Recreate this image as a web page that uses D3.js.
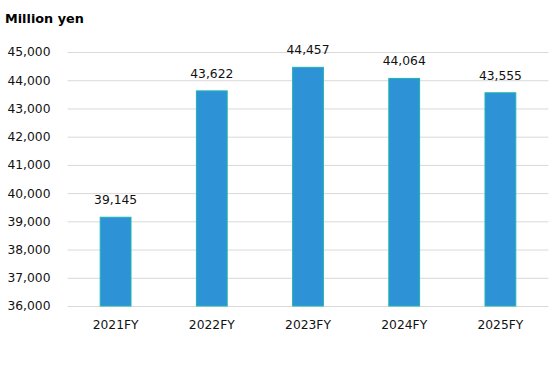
<!DOCTYPE html>
<html><head><meta charset="utf-8">
<script src="https://cdn.jsdelivr.net/npm/d3@7"></script>
<style>body{margin:0;background:#fff;} svg{display:block;}</style>
</head><body>
<svg id="c" width="558" height="367"></svg>
<script>
const categories = ["2021FY","2022FY","2023FY","2024FY","2025FY"];
const values = [39145, 43622, 44457, 44064, 43555];
const yTicks = [36000,37000,38000,39000,40000,41000,42000,43000,44000,45000];
const unitLabel = "Million yen";

const svg = d3.select("#c");
const font = "'DejaVu Sans', Verdana, sans-serif";
const x = d3.scaleBand().domain(categories).range([67.5, 548.5]).paddingInner(0.68).paddingOuter(0.34);
const y = d3.scaleLinear().domain([36000, 45000]).range([306, 52]);

svg.append("text").attr("x", 5).attr("y", 23).attr("font-family", font).attr("font-weight", "bold")
  .attr("font-size", 12.8).attr("fill", "#000").text(unitLabel);

const yAxis = svg.append("g").attr("transform", "translate(67.5,0)")
  .call(d3.axisLeft(y).tickValues(yTicks).tickSize(-481).tickPadding(17).tickFormat(d3.format(",")));
yAxis.select(".domain").remove();
yAxis.selectAll(".tick line").attr("stroke", "#d9d9d9").attr("stroke-width", 1);
yAxis.selectAll(".tick text").attr("font-family", font).attr("font-size", 12.3).attr("fill", "#111");

const xAxis = svg.append("g").attr("transform", "translate(0,306)")
  .call(d3.axisBottom(x).tickSize(0).tickPadding(14));
xAxis.select(".domain").remove();
xAxis.selectAll(".tick text").attr("font-family", font).attr("font-size", 12.3).attr("fill", "#111");

svg.append("g").selectAll("rect").data(values).join("rect")
  .attr("x", (d,i) => x(categories[i]))
  .attr("width", x.bandwidth())
  .attr("y", d => y(d))
  .attr("height", d => y(36000) - y(d))
  .attr("fill", "#2E93D6").attr("stroke", "#1CB5B0").attr("stroke-width", 1);

svg.append("g").selectAll("text").data(values).join("text")
  .attr("x", (d,i) => x(categories[i]) + x.bandwidth()/2)
  .attr("y", d => y(d) - 13)
  .attr("text-anchor", "middle").attr("font-family", font).attr("font-size", 12.3).attr("fill", "#111")
  .text(d => d3.format(",")(d));
</script>
</body></html>
